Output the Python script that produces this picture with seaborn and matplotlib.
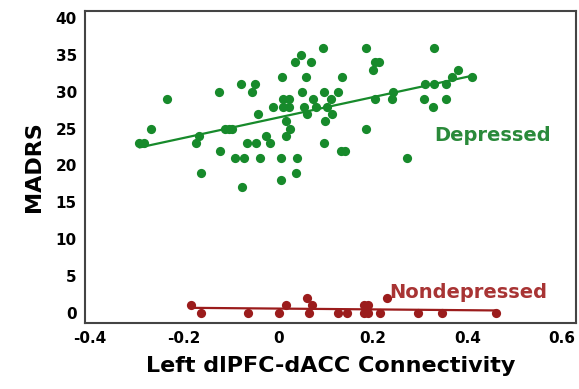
import matplotlib
matplotlib.use("Agg")
import matplotlib.pyplot as plt
import seaborn as sns
import pandas as pd

# Depressed group (green)
dep_x = [-0.295, -0.285, -0.270, -0.237, -0.175, -0.168, -0.165, -0.126, -0.124, -0.114,
         -0.106, -0.098, -0.093, -0.073, -0.080, -0.077, -0.067, -0.057, -0.050, -0.047,
         -0.044, -0.040, -0.027, -0.018, -0.013, 0.004, 0.006, 0.004, 0.010, 0.022,
         0.010, 0.022, 0.015, 0.023, 0.015, 0.035, 0.047, 0.038, 0.037, 0.058,
         0.068, 0.050, 0.054, 0.061, 0.073, 0.080, 0.093, 0.095, 0.102, 0.098,
         0.095, 0.111, 0.114, 0.125, 0.135, 0.132, 0.140, 0.184, 0.186, 0.200,
         0.204, 0.213, 0.203, 0.241, 0.243, 0.271, 0.307, 0.309, 0.326, 0.330,
         0.330, 0.354, 0.354, 0.368, 0.379, 0.410]
dep_y = [23, 23, 25, 29, 23, 24, 19, 30, 22, 25,
         25, 25, 21, 21, 31, 17, 23, 30, 31, 23,
         27, 21, 24, 23, 28, 21, 32, 18, 29, 29,
         28, 28, 26, 25, 24, 34, 35, 21, 19, 32,
         34, 30, 28, 27, 29, 28, 36, 30, 28, 26,
         23, 29, 27, 30, 32, 22, 22, 25, 36, 33,
         34, 34, 29, 29, 30, 21, 29, 31, 28, 31,
         36, 31, 29, 32, 33, 32]

# Nondepressed group (red)
non_x = [-0.185, -0.165, -0.065, 0.000, 0.015, 0.060, 0.070, 0.065, 0.125, 0.145,
         0.180, 0.190, 0.180, 0.190, 0.215, 0.230, 0.295, 0.345, 0.460]
non_y = [1, 0, 0, 0, 1, 2, 1, 0, 0, 0,
         1, 1, 0, 0, 0, 2, 0, 0, 0]

x_ticks = [-0.4, -0.2, 0, 0.2, 0.4, 0.6]
x_tick_labels = ["-0.4", "-0.2", "0", "0.2", "0.4", "0.6"]
y_ticks = [0, 5, 10, 15, 20, 25, 30, 35, 40]

green = "#178a2b"
red = "#9b1c1c"

dep = pd.DataFrame({"conn": dep_x, "madrs": dep_y})
non = pd.DataFrame({"conn": non_x, "madrs": non_y})

sns.set_style("white")
plt.rcParams["font.family"] = ["DejaVu Sans"]
plt.rcParams["text.color"] = "black"
plt.rcParams["axes.labelcolor"] = "black"
plt.rcParams["xtick.color"] = "black"
plt.rcParams["ytick.color"] = "black"

fig = plt.figure(figsize=(5.79, 3.89), dpi=100)
ax = fig.add_axes([0.147, 0.170, 0.848, 0.802])

sns.regplot(data=dep, x="conn", y="madrs", ax=ax, ci=None, color=green,
            scatter_kws={"s": 44, "linewidths": 0, "alpha": 1},
            line_kws={"lw": 1.6})
sns.regplot(data=non, x="conn", y="madrs", ax=ax, ci=None, color=red,
            scatter_kws={"s": 44, "linewidths": 0, "alpha": 1},
            line_kws={"lw": 1.6})

ax.set_xlim(-0.41, 0.63)
ax.set_ylim(-1.4, 41)
ax.set_xticks(x_ticks)
ax.set_xticklabels(x_tick_labels, fontsize=11, fontweight="bold")
ax.set_yticks(y_ticks)
ax.set_yticklabels([str(v) for v in y_ticks], fontsize=11, fontweight="bold")
ax.tick_params(length=0, pad=6)

ax.set_xlabel("Left dlPFC-dACC Connectivity", fontsize=16, fontweight="bold", labelpad=7)
ax.set_ylabel("MADRS", fontsize=16, fontweight="bold", labelpad=8)

for sp in ax.spines.values():
    sp.set_visible(True)
    sp.set_color("#444444")
    sp.set_linewidth(1.5)

ax.text(0.33, 24.1, "Depressed", color="#2a8a3a", fontsize=14, fontweight="bold",
        va="center", ha="left")
ax.text(0.235, 2.7, "Nondepressed", color="#a83434", fontsize=14, fontweight="bold",
        va="center", ha="left")

fig.savefig("out.png", dpi=100)
